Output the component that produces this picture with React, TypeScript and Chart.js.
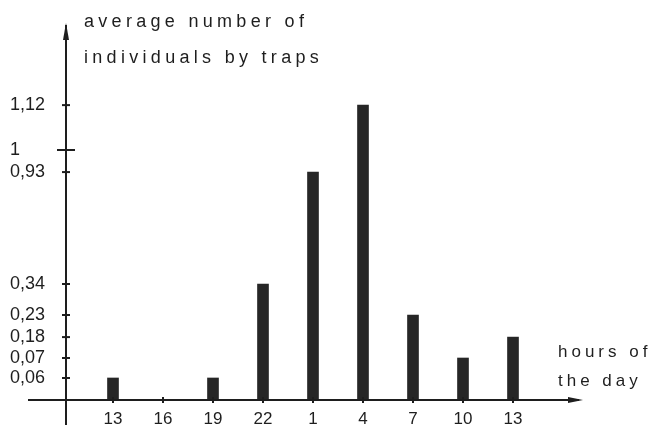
import React, { useEffect, useRef } from 'react';
import { Chart, registerables, LinearScale } from 'chart.js';

// ---- data ----
const hours = ['13', '16', '19', '22', '1', '4', '7', '10', '13'];
const avgIndividuals = [0.06, 0, 0.06, 0.34, 0.93, 1.12, 0.23, 0.07, 0.18];
const yTickValues = [0.06, 0.07, 0.18, 0.23, 0.34, 0.93, 1, 1.12];
const yTickLabels = ['0,06', '0,07', '0,18', '0,23', '0,34', '0,93', '1', '1,12'];
const yTitle = ['average number of', 'individuals by traps'];
const xTitle = ['hours of', 'the day'];

// hand-drawn (non-linear) value axis: value -> fraction of axis height
const yKnotValues = [0, 0.06, 0.07, 0.18, 0.23, 0.34, 0.93, 1, 1.12, 1.4];
const yKnotFractions = [0, 0.0595, 0.1135, 0.17, 0.2297, 0.3135, 0.616, 0.6757, 0.797, 1];

const INK = '#1e1e1e';
const FONT = '"Liberation Sans", Arial, sans-serif';

function interp(v: number, xs: number[], ys: number[]) {
  if (v <= xs[0]) return ys[0];
  for (let i = 1; i < xs.length; i++) {
    if (v <= xs[i]) {
      const t = (v - xs[i - 1]) / (xs[i] - xs[i - 1]);
      return ys[i - 1] + t * (ys[i] - ys[i - 1]);
    }
  }
  return ys[ys.length - 1];
}

class KnotScale extends LinearScale {
  static id = 'knot';
  static defaults = {};
  getPixelForValue(value: number) {
    const f = interp(value, yKnotValues, yKnotFractions);
    return this.bottom - f * (this.bottom - this.top);
  }
  getValueForPixel(pixel: number) {
    const f = (this.bottom - pixel) / (this.bottom - this.top);
    return interp(f, yKnotFractions, yKnotValues);
  }
}

Chart.register(...registerables, KnotScale);

const drawingPlugin = {
  id: 'handDrawn',
  afterDraw(chart: any) {
    const ctx = chart.ctx as CanvasRenderingContext2D;
    const { left, right, top, bottom } = chart.chartArea;
    const ys = chart.scales.y;
    const xs = chart.scales.x;
    ctx.save();
    ctx.strokeStyle = INK;
    ctx.fillStyle = INK;
    ctx.lineWidth = 2;
    // y axis
    ctx.beginPath();
    ctx.moveTo(left, bottom + 25);
    ctx.lineTo(left, top - 5);
    ctx.stroke();
    ctx.beginPath();
    ctx.moveTo(left, top - 7);
    ctx.lineTo(left - 3, top + 10);
    ctx.lineTo(left + 3, top + 10);
    ctx.closePath();
    ctx.fill();
    // x axis
    ctx.beginPath();
    ctx.moveTo(left - 38, bottom);
    ctx.lineTo(right - 4, bottom);
    ctx.stroke();
    ctx.beginPath();
    ctx.moveTo(right, bottom);
    ctx.lineTo(right - 15, bottom - 3);
    ctx.lineTo(right - 15, bottom + 3);
    ctx.closePath();
    ctx.fill();
    // y ticks (crossing the axis)
    ys.ticks.forEach((t: any) => {
      const py = ys.getPixelForValue(t.value);
      const len = t.value === 1 ? 9 : 4;
      ctx.beginPath();
      ctx.moveTo(left - len, py);
      ctx.lineTo(left + len, py);
      ctx.stroke();
    });
    // x ticks
    xs.ticks.forEach((t: any) => {
      const px = xs.getPixelForValue(t.value);
      ctx.beginPath();
      ctx.moveTo(px, bottom - 3);
      ctx.lineTo(px, bottom + 3);
      ctx.stroke();
    });
    // titles
    (ctx as any).letterSpacing = '4.3px';
    ctx.font = '18px ' + FONT;
    ctx.textAlign = 'left';
    ctx.textBaseline = 'alphabetic';
    ctx.fillText(yTitle[0], left + 18, top - 3);
    ctx.fillText(yTitle[1], left + 18, top + 33);
    (ctx as any).letterSpacing = '4px';
    ctx.font = '17px ' + FONT;
    ctx.fillText(xTitle[0], right - 25, bottom - 43);
    ctx.fillText(xTitle[1], right - 25, bottom - 14);
    ctx.restore();
  },
};

export default function App() {
  const ref = useRef<HTMLCanvasElement>(null);
  useEffect(() => {
    if (!ref.current) return;
    const chart = new Chart(ref.current, {
      type: 'bar',
      data: {
        datasets: [
          {
            data: avgIndividuals.map((v, i) => ({ x: i, y: v })),
            backgroundColor: '#262626',
            borderWidth: 0,
            barThickness: 11,
          },
        ],
      },
      options: {
        animation: false,
        responsive: false,
        layout: { padding: { left: 10, top: 30, right: 66, bottom: 0 } },
        plugins: { legend: { display: false }, tooltip: { enabled: false }, title: { display: false } },
        scales: {
          x: {
            type: 'linear',
            offset: false,
            min: -0.94,
            max: 9.4,
            afterBuildTicks: (s: any) => {
              s.ticks = hours.map((_, i) => ({ value: i }));
            },
            afterFit: (s: any) => {
              s.height = 25;
            },
            grid: { display: false, offset: false },
            border: { display: false },
            ticks: {
              autoSkip: false,
              maxRotation: 0,
              padding: 1,
              color: INK,
              font: { family: FONT, size: 17 },
              callback: (_v: any, i: number) => hours[i],
            },
          },
          y: {
            type: 'knot' as any,
            min: 0,
            max: 1.4,
            afterBuildTicks: (s: any) => {
              s.ticks = yTickValues.map((v) => ({ value: v }));
            },
            afterFit: (s: any) => {
              s.width = 56;
            },
            grid: { display: false },
            border: { display: false },
            ticks: {
              autoSkip: false,
              crossAlign: 'far',
              padding: 9,
              color: INK,
              font: { family: FONT, size: 18 },
              callback: (_v: any, i: number) => yTickLabels[i],
            },
          },
        },
      },
      plugins: [drawingPlugin],
    } as any);
    return () => chart.destroy();
  }, []);
  return (
    <div style={{ position: 'absolute', left: 0, top: 0, width: 649, height: 425, background: '#fff' }}>
      <canvas ref={ref} width={649} height={425} style={{ display: 'block' }} />
    </div>
  );
}
